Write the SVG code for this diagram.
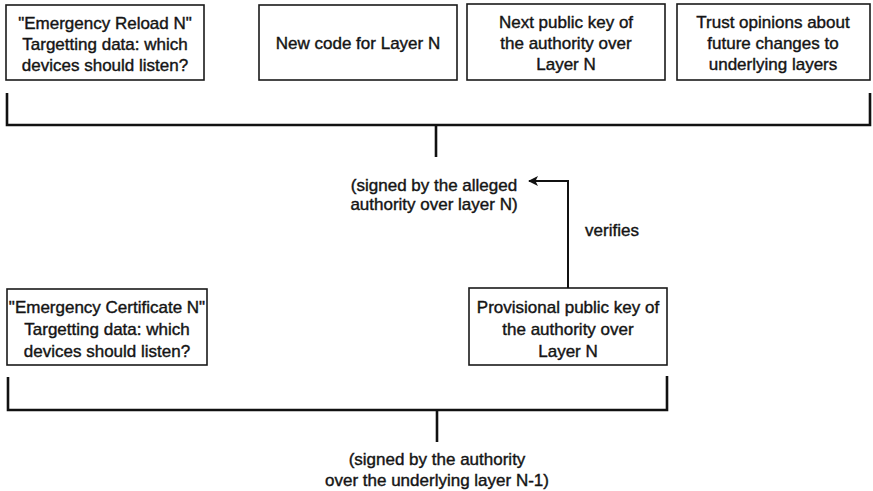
<svg xmlns="http://www.w3.org/2000/svg" width="873" height="491" viewBox="0 0 873 491">
  <style>
    .box { fill: #ffffff; stroke: #1a1a1a; stroke-width: 1.6; }
    .t { font-family: "Liberation Sans", Arial, sans-serif; font-size: 17px; fill: #141414; text-anchor: middle; stroke: #141414; stroke-width: 0.4; }
    .brace { fill: none; stroke: #111111; stroke-width: 2.6; stroke-linejoin: miter; }
    .arrow { fill: none; stroke: #111111; stroke-width: 2; }
  </style>
  <defs>
    <marker id="head" viewBox="0 0 10 10" refX="9" refY="5" markerWidth="11" markerHeight="10" markerUnits="userSpaceOnUse" orient="auto">
      <path d="M0,0 L10,5 L0,10 L2.5,5 Z" fill="#111111"/>
    </marker>
  </defs>
  <rect width="873" height="491" fill="#ffffff"/>

  <!-- upper row: contents of the Emergency Reload -->
  <g id="reload-targeting">
    <rect class="box" x="6" y="5" width="198" height="75"/>
    <text class="t" x="105" y="29">"Emergency Reload N"</text>
    <text class="t" x="105" y="50">Targetting data: which</text>
    <text class="t" x="105" y="71">devices should listen?</text>
  </g>
  <g id="new-code">
    <rect class="box" x="259" y="5" width="198" height="75"/>
    <text class="t" x="358" y="49">New code for Layer N</text>
  </g>
  <g id="next-key">
    <rect class="box" x="467" y="4" width="198" height="76"/>
    <text class="t" x="566" y="28">Next public key of</text>
    <text class="t" x="566" y="49">the authority over</text>
    <text class="t" x="566" y="70">Layer N</text>
  </g>
  <g id="trust-opinions">
    <rect class="box" x="677" y="4" width="193" height="76"/>
    <text class="t" x="773" y="28">Trust opinions about</text>
    <text class="t" x="773" y="49">future changes to</text>
    <text class="t" x="773" y="70">underlying layers</text>
  </g>

  <!-- signature over the upper row -->
  <g id="signed-alleged">
    <text class="t" x="434" y="191">(signed by the alleged</text>
    <text class="t" x="434" y="210">authority over layer N)</text>
  </g>

  <!-- lower row: the Emergency Certificate -->
  <g id="certificate-targeting">
    <rect class="box" x="7" y="289" width="200" height="76"/>
    <text class="t" x="107" y="313">"Emergency Certificate N"</text>
    <text class="t" x="107" y="335">Targetting data: which</text>
    <text class="t" x="107" y="357">devices should listen?</text>
  </g>
  <g id="provisional-key">
    <rect class="box" x="469" y="288" width="198" height="77"/>
    <text class="t" x="568" y="313">Provisional public key of</text>
    <text class="t" x="568" y="335">the authority over</text>
    <text class="t" x="568" y="357">Layer N</text>
  </g>

  <g id="signed-underlying">
    <text class="t" x="437" y="465">(signed by the authority</text>
    <text class="t" x="437" y="486">over the underlying layer N-1)</text>
  </g>

  <!-- brackets and the verification arrow -->
  <g id="connectors">
    <path class="brace" d="M7,93 V125 H870 V93"/>
    <path class="brace" d="M436,125 V157"/>
    <path class="brace" d="M8,377 V410 H667 V376"/>
    <path class="brace" d="M437,410 V442"/>
    <path class="arrow" d="M568,288 V181 H529" marker-end="url(#head)"/>
    <text class="t" x="612" y="236">verifies</text>
  </g>
</svg>
